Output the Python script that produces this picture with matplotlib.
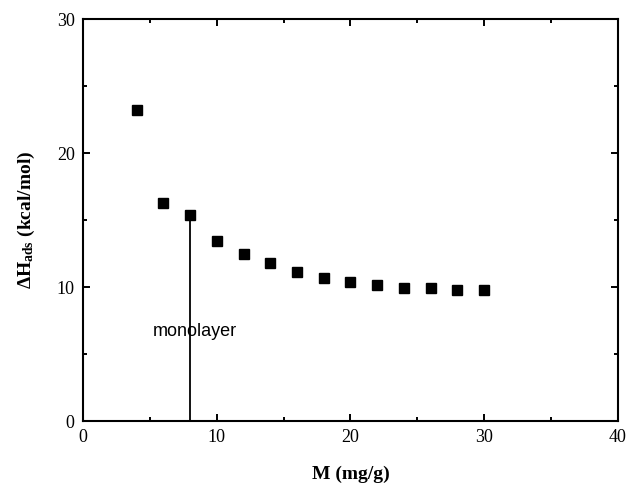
import matplotlib
matplotlib.use("Agg")
import matplotlib.pyplot as plt
from matplotlib.ticker import MultipleLocator

plt.rcParams['mathtext.fontset'] = 'custom'
plt.rcParams['mathtext.rm'] = 'Liberation Serif'
plt.rcParams['mathtext.bf'] = 'Liberation Serif:bold'

# data
m_loading = [4, 6, 8, 10, 12, 14, 16, 18, 20, 22, 24, 26, 28, 30]
dh_ads = [23.2, 16.3, 15.4, 13.4, 12.5, 11.8, 11.1, 10.7, 10.35, 10.15, 9.9, 9.9, 9.8, 9.8]
monolayer_x = 8

fig = plt.figure(figsize=(6.27, 4.90), dpi=100)
ax = fig.add_axes([0.1324, 0.1408, 0.8532, 0.8204])

ax.plot(m_loading, dh_ads, 's', color='black', markersize=7.2, linestyle='none')
ax.vlines(monolayer_x, 0, dh_ads[m_loading.index(monolayer_x)], color='black', linewidth=1.3)
ax.text(monolayer_x + 0.4, 6.7, 'monolayer', ha='center', va='center',
        fontsize=13, family='Liberation Sans')

ax.set_xlim(0, 40)
ax.set_ylim(0, 30)
ax.xaxis.set_major_locator(MultipleLocator(10))
ax.xaxis.set_minor_locator(MultipleLocator(5))
ax.yaxis.set_major_locator(MultipleLocator(10))
ax.yaxis.set_minor_locator(MultipleLocator(5))
ax.tick_params(which='both', direction='in', top=True, right=True, width=1.4)
ax.tick_params(which='major', length=5, labelsize=13, pad=6)
ax.tick_params(which='minor', length=3)
for lab in ax.get_xticklabels() + ax.get_yticklabels():
    lab.set_family('Liberation Serif')
for sp in ax.spines.values():
    sp.set_linewidth(1.5)

ax.set_xlabel('M (mg/g)', fontsize=14, fontweight='bold', family='Liberation Serif', labelpad=14)
ax.set_ylabel(r'$\mathbf{\Delta H_{ads}}$ (kcal/mol)', fontsize=14, fontweight='bold',
              family='Liberation Serif', labelpad=14)

fig.savefig('out.png', dpi=100)
